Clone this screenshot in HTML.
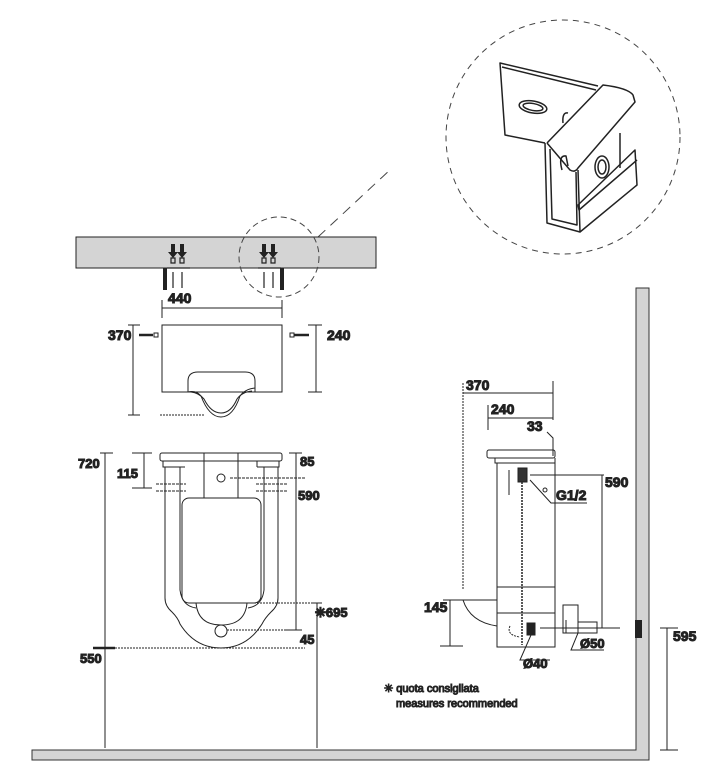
<!DOCTYPE html>
<html><head><meta charset="utf-8"><style>
html,body{margin:0;padding:0;background:#fff}
svg{display:block}
text{font-family:"Liberation Sans",Arial,sans-serif;font-weight:bold;font-size:13px;fill:#222}
.n{font-weight:normal;font-size:11px}
</style></head><body>
<svg width="713" height="773" viewBox="0 0 713 773" xmlns="http://www.w3.org/2000/svg" fill="none" stroke="#222" stroke-width="1">
<circle cx="563" cy="137" r="117" stroke="#444" stroke-dasharray="6,5"/>
<line x1="318" y1="237" x2="392" y2="168" stroke="#444" stroke-dasharray="10,7"/>
<g stroke="#222" stroke-width="1.5" stroke-linejoin="round">
<path d="M598 86 L500 63 L505 135 L545 143"/>
<path d="M502 67 L596 90"/>
<path d="M547 143 L603 85 Q628 88 633 95 L635 102 L578 168 Q575 173 570 170 L547 143"/>
<path d="M545 143 L547 223 L580 232 L578 170"/>
<path d="M550 149 L552 219 L577 225 L576 172"/>
<path d="M580 232 L637 185 L635 150 L578 205 L579 210 L637 160"/>
<path d="M620 133 V168"/>
<ellipse cx="533" cy="107" rx="14" ry="6" transform="rotate(10 533 107)"/>
<ellipse cx="533" cy="107" rx="10" ry="3.5" transform="rotate(10 533 107)"/>
<ellipse cx="602" cy="167" rx="7" ry="11"/>
<ellipse cx="602" cy="167" rx="4" ry="7"/>
<path d="M563 123 Q562 112 568 113 M562 170 Q558 155 566 156 L568 166"/>
</g>
<rect x="76" y="237" width="300" height="31" fill="#d4d4d4" stroke="#222"/>
<circle cx="279" cy="257" r="40" stroke="#444" stroke-dasharray="6,4"/>
<g fill="#222" stroke="none">
<rect x="163" y="268" width="4" height="22"/>
<rect x="280" y="268" width="4" height="22"/>
<path d="M171 244 v8 h-3 l5 6 l5-6 h-3 v-8z M180 244 v8 h-3 l5 6 l5-6 h-3 v-8z M262 244 v8 h-3 l5 6 l5-6 h-3 v-8z M271 244 v8 h-3 l5 6 l5-6 h-3 v-8z"/>
</g>
<path d="M167 268 H190 M258 268 H281 M173 272 V288 M182 272 V288 M264 272 V288 M273 272 V288 M171 258 h4 v5 h-4z M180 258 h4 v5 h-4z M262 258 h4 v5 h-4z M271 258 h4 v5 h-4z" stroke-width="1.2"/>
<path d="M162 300 V318 M282 300 V318 M162 308 H282"/>
<text x="168" y="303" style="font-size:14px">440</text>
<rect x="162" y="325" width="120" height="67"/>
<path d="M188 392 V381 Q188 372 198 372 H245 Q255 372 255 381 V392"/>
<path d="M188 392 Q196 390 201 396 Q209 417 221 417 Q233 417 240 396 Q245 389 255 388"/>
<path d="M191 392 Q199 393 204 399 Q211 413 221 413 Q231 413 237 399 Q242 392 252 391"/>
<path d="M133 325 V415 M128 325 H140 M128 415 H140 M316 325 V392 M308 325 H322 M308 392 H322"/>
<path d="M160 415 H205" stroke-dasharray="2,1"/>
<text x="108" y="340" style="font-size:14px">370</text><text x="327" y="340" style="font-size:14px">240</text>
<path d="M139 335 H153" stroke-width="2.5"/><rect x="154" y="333" width="4" height="4"/>
<path d="M294 335 H309" stroke-width="2.5"/><rect x="290" y="333" width="4" height="4"/>
<rect x="160" y="453" width="122" height="8" rx="2"/>
<path d="M163 461 V467 H185 M279 461 V467 H257"/>
<path d="M185 461 H257 V467"/>
<path d="M165 467 V598 Q165 606 172 612 Q178 618 180 624 Q195 648 221 648 Q247 648 262 624 Q265 618 271 612 Q278 606 278 598 V467"/>
<path d="M180 467 V590 Q182 606 196 608 M264 467 V590 Q262 606 248 608"/>
<rect x="182" y="498" width="79" height="105" rx="7"/>
<path d="M204 453 V498 M238 453 V498"/>
<path d="M196 603 Q198 625 221 625 Q245 625 247 603"/>
<circle cx="221" cy="631" r="6"/>
<circle cx="221" cy="478" r="4"/>
<path d="M105 453 V748 M100 453 H113 M144 453 V488 M132 453 H152 M132 488 H152"/>
<path d="M156 484 H186 M156 491 H186 M256 484 H287 M256 491 H287 M230 478 H305" stroke-dasharray="3,1"/>
<path d="M289 453 H302 M296 453 V630 M286 630 H302 M317 603 V748 M311 603 H322"/>
<path d="M230 603 H312 M227 630 H296 M115 648 H305" stroke-dasharray="2,1"/>
<path d="M93 648 H115" stroke-width="2.5"/>
<g style="font-size:14px">
<text x="78" y="468">720</text><text x="117" y="478">115</text><text x="300" y="466">85</text><text x="298" y="500">590</text>
<text x="315" y="617">✳695</text><text x="300" y="644">45</text><text x="80" y="663">550</text>
</g>
<path d="M463 383 V590" stroke-dasharray="2,1"/>
<path d="M463 393 H553 M553 381 V420 M488 405 V430 M488 418 H553 M547 432 L553 438 V456"/>
<text x="466" y="390" style="font-size:14px">370</text><text x="491" y="414" style="font-size:14px">240</text><text x="527" y="431" style="font-size:14px">33</text>
<rect x="487" y="450" width="68" height="8" rx="2"/>
<path d="M495 458 V463 H555 V458"/>
<rect x="497" y="463" width="58" height="184"/>
<path d="M497 587 H555 M497 613 H555"/>
<path d="M522 470 V645" stroke-dasharray="2,1" stroke-width="1.5"/>
<path d="M509 470 V495"/>
<rect x="518" y="468" width="9" height="14" fill="#333"/>
<circle cx="545" cy="490" r="2"/>
<path d="M530 480 L551 503 H587"/>
<text x="556" y="500" style="font-size:14px">G1/2</text>
<path d="M530 475 H604 M602 475 V628"/>
<text x="605" y="487" style="font-size:14px">590</text>
<path d="M450 600 V646 M440 646 H463 M443 600 H497"/>
<path d="M463 600 Q470 622 497 626"/>
<path d="M510 626 Q506 635 520 637" stroke-dasharray="2,1"/>
<rect x="527" y="623" width="8" height="12" fill="#222"/>
<path d="M531 635 L520 660 H550"/>
<text x="523" y="668" style="font-size:13px">Ø40</text>
<path d="M563 605 H578 V633 H563Z M578 622 H597 V633 H578"/>
<path d="M566 620 V633"/>
<path d="M578 633 L571 650 H604"/>
<text x="580" y="648" style="font-size:13px">Ø50</text>
<path d="M540 628 H620"/>
<text x="424" y="612" style="font-size:14px">145</text>
<path d="M32 750 H636 V288 H649 V760 H32 Z" fill="#d4d4d4" stroke="#333"/>
<rect x="635" y="620" width="7" height="18" fill="#222" stroke="none"/>
<path d="M667 628 V750 M660 628 H678 M660 750 H678"/>
<text x="673" y="641" style="font-size:14px">595</text>
<text x="384" y="692" class="n">✳ quota consigliata</text>
<text x="396" y="707" class="n">measures recommended</text>
</svg>
</body></html>
